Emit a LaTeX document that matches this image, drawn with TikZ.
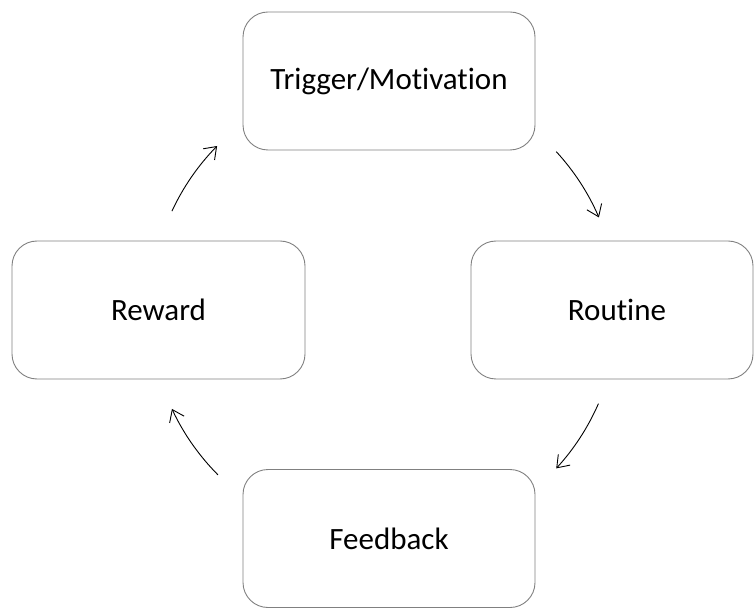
\documentclass[tikz,border=0pt]{standalone}
\usepackage{fontspec}
\setmainfont[RawFeature=-liga]{Carlito}
\usetikzlibrary{arrows.meta}
\begin{document}
\begin{tikzpicture}[x=1pt,y=1pt,
  stage/.style={draw=black!50, line width=0.9pt, rounded corners=25pt,
    minimum height=138pt, inner sep=0pt, font=\fontsize{31}{35}\selectfont},
  cyclearrow/.style={line width=0.9pt, -{Straight Barb[length=11pt,width=16pt,line width=0.9pt]}}]
  \useasboundingbox (0,0) rectangle (754,608);
  % the four stages of the habit loop
  \node[stage, minimum width=292pt] (trigger)  at (389,527)   {Trigger/Motivation};
  \node[stage, minimum width=282pt] (routine)  at (612,298)   {\hspace{10pt}Routine};
  \node[stage, minimum width=293pt] (reward)   at (158.5,298) {Reward};
  \node[stage, minimum width=292pt] (feedback) at (389,69.5)  {Feedback};
  % centre of the circle the arrows follow
  \coordinate (hub) at (384,298);
  \draw[cyclearrow] ([shift={(42.6:234)}]hub) arc (42.6:23.3:234);
  \draw[cyclearrow] ([shift={(-23.6:234)}]hub) arc (-23.6:-42.6:234);
  \draw[cyclearrow] ([shift={(-135.2:234)}]hub) arc (-135.2:-155:234);
  \draw[cyclearrow] ([shift={(155:234)}]hub) arc (155:135.5:234);
\end{tikzpicture}
\end{document}
